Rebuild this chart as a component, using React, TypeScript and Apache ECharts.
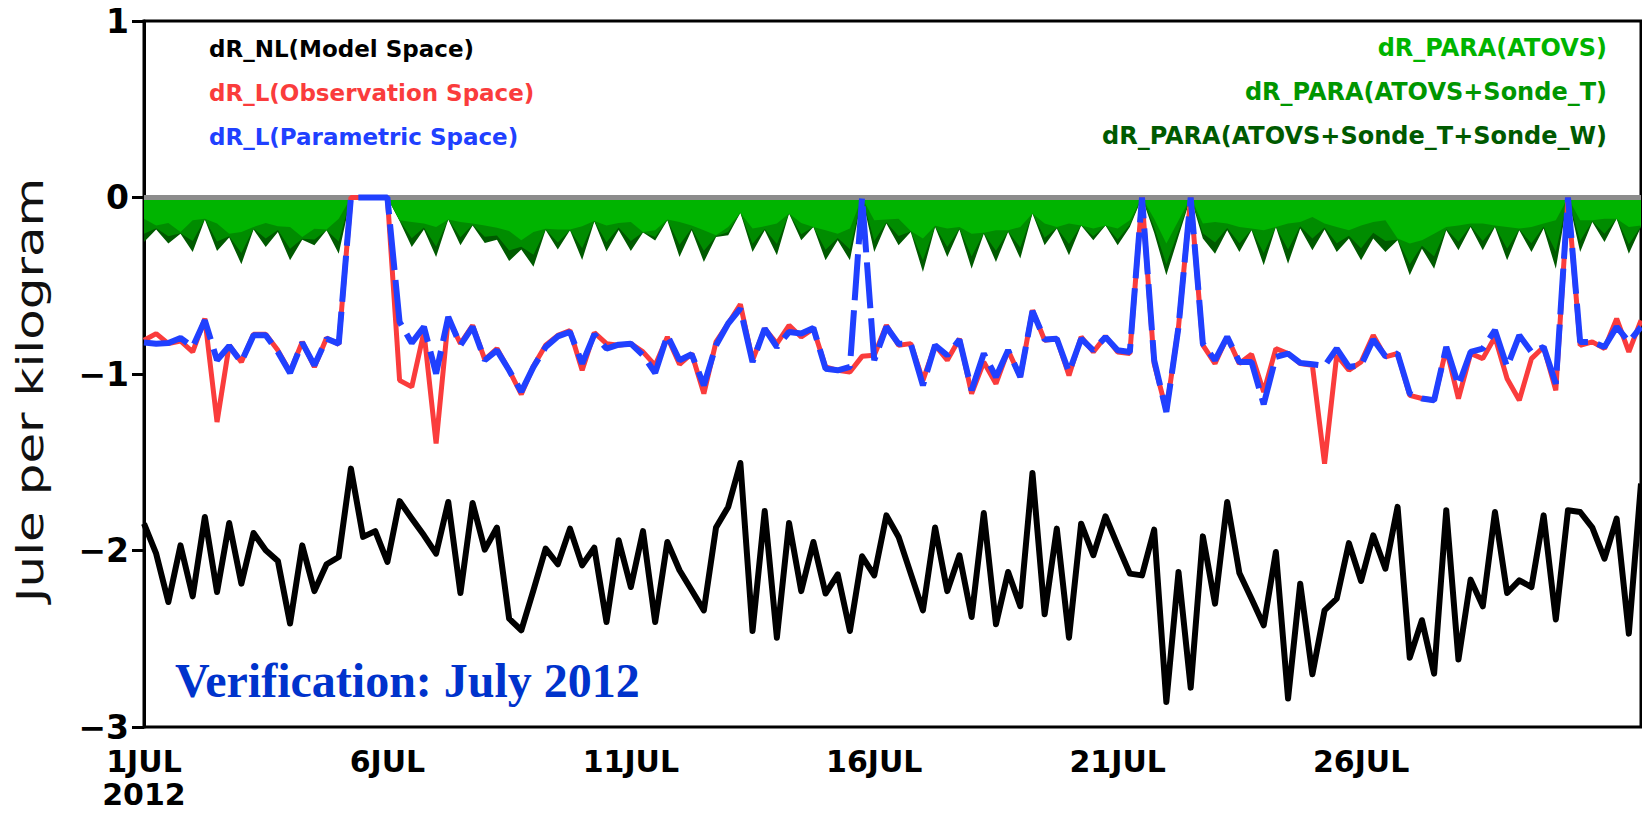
import React, { useEffect, useRef } from "react";
import * as echarts from "echarts";

// 6-hourly samples, 1 JUL 2012 00Z .. 31 JUL 2012 18Z (124 points)
const dayTickLabels = ["1JUL\n2012", "6JUL", "11JUL", "16JUL", "21JUL", "26JUL"];
const yTickValues = [1, 0, -1, -2, -3];

const drNL = [
  -1.848, -2.018, -2.292, -1.971, -2.260, -1.810, -2.235, -1.844, -2.188, -1.901,
  -1.999, -2.059, -2.414, -1.971, -2.230, -2.078, -2.037, -1.536, -1.923, -1.890,
  -2.065, -1.720, -1.819, -1.914, -2.018, -1.725, -2.241, -1.731, -1.995, -1.870,
  -2.386, -2.452, -2.225, -1.989, -2.078, -1.876, -2.084, -1.984, -2.405, -1.942,
  -2.207, -1.890, -2.405, -1.952, -2.112, -2.225, -2.339, -1.870, -1.753, -1.504,
  -2.456, -1.776, -2.494, -1.844, -2.230, -1.952, -2.244, -2.135, -2.456, -2.033,
  -2.141, -1.801, -1.923, -2.131, -2.339, -1.870, -2.230, -2.027, -2.377, -1.788,
  -2.418, -2.122, -2.316, -1.561, -2.361, -1.876, -2.494, -1.848, -2.027, -1.806,
  -1.971, -2.131, -2.141, -1.882, -2.858, -2.122, -2.777, -1.920, -2.301, -1.725,
  -2.127, -2.273, -2.424, -2.008, -2.839, -2.188, -2.701, -2.339, -2.273, -1.958,
  -2.173, -1.914, -2.103, -1.753, -2.607, -2.395, -2.698, -1.772, -2.618, -2.165,
  -2.316, -1.782, -2.241, -2.169, -2.207, -1.801, -2.391, -1.772, -1.782, -1.870,
  -2.046, -1.819, -2.471, -1.621,
];

const drLObs = [
  -0.809, -0.771, -0.828, -0.813, -0.875, -0.686, -1.272, -0.837, -0.932, -0.775,
  -0.775, -0.866, -0.989, -0.818, -0.960, -0.796, -0.832, 0, 0, 0,
  0, -1.036, -1.073, -0.762, -1.394, -0.686, -0.828, -0.724, -0.919, -0.856,
  -0.979, -1.115, -0.955, -0.837, -0.781, -0.754, -0.979, -0.766, -0.828, -0.837,
  -0.828, -0.875, -0.951, -0.790, -0.945, -0.884, -1.111, -0.818, -0.714, -0.605,
  -0.922, -0.743, -0.828, -0.724, -0.790, -0.743, -0.960, -0.979, -0.989, -0.900,
  -0.894, -0.724, -0.837, -0.828, -1.036, -0.837, -0.922, -0.800, -1.111, -0.932,
  -1.055, -0.866, -1.017, -0.639, -0.809, -0.800, -1.008, -0.790, -0.875, -0.787,
  -0.875, -0.884, 0, -0.941, -1.206, -0.733, 0, -0.837, -0.941, -0.790,
  -0.941, -0.888, -1.102, -0.856, -0.884, -0.941, -0.951, -1.508, -0.894, -0.979,
  -0.932, -0.781, -0.903, -0.884, -1.121, -1.139, -1.149, -0.856, -1.139, -0.884,
  -0.913, -0.790, -1.027, -1.149, -0.913, -0.847, -1.092, 0, -0.837, -0.818,
  -0.856, -0.686, -0.875, -0.696,
];

const drLPara = [
  -0.822, -0.828, -0.824, -0.796, -0.847, -0.696, -0.922, -0.841, -0.932, -0.781,
  -0.781, -0.875, -0.994, -0.822, -0.951, -0.800, -0.828, 0, 0, 0,
  0, -0.705, -0.824, -0.733, -0.998, -0.677, -0.837, -0.733, -0.922, -0.866,
  -0.979, -1.100, -0.960, -0.847, -0.787, -0.762, -0.941, -0.775, -0.856, -0.834,
  -0.828, -0.894, -0.994, -0.781, -0.922, -0.888, -1.064, -0.837, -0.714, -0.630,
  -0.932, -0.743, -0.847, -0.762, -0.771, -0.739, -0.970, -0.979, -0.960, 0,
  -0.922, -0.733, -0.828, -0.828, -1.064, -0.837, -0.894, -0.805, -1.092, -0.884,
  -1.017, -0.866, -1.017, -0.643, -0.805, -0.800, -0.989, -0.800, -0.866, -0.790,
  -0.866, -0.875, 0, -0.922, -1.215, -0.733, 0, -0.828, -0.922, -0.790,
  -0.932, -0.932, -1.172, -0.903, -0.884, -0.937, -0.945, -0.954, -0.856, -0.960,
  -0.951, -0.805, -0.900, -0.884, -1.111, -1.139, -1.149, -0.847, -1.064, -0.875,
  -0.856, -0.752, -0.960, -0.781, -0.875, -0.847, -1.055, 0, -0.818, -0.818,
  -0.847, -0.733, -0.818, -0.733,
];

const paraAtovs = [
  -0.120, -0.158, -0.144, -0.195, -0.129, -0.120, -0.148, -0.205, -0.195, -0.167,
  -0.144, -0.163, -0.167, -0.224, -0.177, -0.182, -0.120, 0, 0, 0,
  0, -0.129, -0.139, -0.148, -0.167, -0.125, -0.139, -0.148, -0.158, -0.171,
  -0.190, -0.242, -0.195, -0.177, -0.182, -0.182, -0.163, -0.133, -0.158, -0.144,
  -0.139, -0.195, -0.186, -0.125, -0.139, -0.158, -0.186, -0.214, -0.167, -0.086,
  -0.176, -0.163, -0.148, -0.091, -0.144, -0.167, -0.186, -0.205, -0.176, 0,
  -0.129, -0.125, -0.120, -0.190, -0.233, -0.160, -0.176, -0.167, -0.205, -0.200,
  -0.186, -0.186, -0.167, -0.091, -0.148, -0.167, -0.148, -0.158, -0.176, -0.158,
  -0.176, -0.129, 0, -0.120, -0.261, -0.130, 0, -0.148, -0.139, -0.148,
  -0.167, -0.176, -0.186, -0.167, -0.148, -0.139, -0.110, -0.148, -0.167, -0.186,
  -0.158, -0.139, -0.129, -0.233, -0.261, -0.242, -0.205, -0.167, -0.158, -0.148,
  -0.148, -0.158, -0.167, -0.176, -0.167, -0.148, -0.129, 0, -0.129, -0.129,
  -0.120, -0.120, -0.167, -0.158,
];

const paraAtovsT = [
  -0.206, -0.174, -0.220, -0.202, -0.246, -0.123, -0.249, -0.219, -0.314, -0.177,
  -0.232, -0.184, -0.290, -0.234, -0.238, -0.185, -0.249, 0, 0, 0,
  0, -0.131, -0.231, -0.170, -0.278, -0.125, -0.225, -0.155, -0.223, -0.215,
  -0.300, -0.279, -0.324, -0.181, -0.255, -0.185, -0.287, -0.135, -0.254, -0.170,
  -0.246, -0.197, -0.224, -0.127, -0.268, -0.175, -0.302, -0.220, -0.195, -0.086,
  -0.262, -0.178, -0.264, -0.091, -0.208, -0.167, -0.296, -0.229, -0.293, 0,
  -0.246, -0.140, -0.218, -0.193, -0.356, -0.165, -0.281, -0.177, -0.334, -0.203,
  -0.302, -0.192, -0.283, -0.091, -0.228, -0.173, -0.264, -0.158, -0.219, -0.158,
  -0.238, -0.154, 0, -0.170, -0.378, -0.190, 0, -0.203, -0.255, -0.173,
  -0.259, -0.183, -0.315, -0.167, -0.295, -0.163, -0.233, -0.170, -0.259, -0.217,
  -0.287, -0.200, -0.246, -0.239, -0.378, -0.273, -0.334, -0.179, -0.250, -0.160,
  -0.246, -0.164, -0.290, -0.182, -0.259, -0.166, -0.307, 0, -0.246, -0.135,
  -0.206, -0.120, -0.265, -0.164,
];

const paraAtovsTW = [
  -0.252, -0.182, -0.261, -0.205, -0.309, -0.125, -0.303, -0.227, -0.378, -0.182,
  -0.280, -0.195, -0.356, -0.239, -0.271, -0.186, -0.318, 0, 0, 0,
  0, -0.133, -0.280, -0.182, -0.337, -0.125, -0.271, -0.158, -0.258, -0.239,
  -0.360, -0.295, -0.392, -0.184, -0.295, -0.186, -0.354, -0.136, -0.306, -0.184,
  -0.303, -0.198, -0.244, -0.129, -0.337, -0.186, -0.365, -0.224, -0.214, -0.086,
  -0.309, -0.186, -0.327, -0.091, -0.242, -0.167, -0.356, -0.242, -0.356, 0,
  -0.309, -0.148, -0.271, -0.195, -0.422, -0.167, -0.337, -0.182, -0.403, -0.205,
  -0.365, -0.195, -0.346, -0.091, -0.271, -0.176, -0.327, -0.158, -0.242, -0.158,
  -0.271, -0.167, 0, -0.200, -0.441, -0.220, 0, -0.233, -0.318, -0.186,
  -0.309, -0.186, -0.384, -0.167, -0.375, -0.176, -0.299, -0.182, -0.309, -0.233,
  -0.356, -0.233, -0.309, -0.242, -0.441, -0.290, -0.403, -0.186, -0.299, -0.167,
  -0.299, -0.167, -0.356, -0.186, -0.309, -0.176, -0.403, 0, -0.309, -0.139,
  -0.252, -0.120, -0.318, -0.167,
];

const timeCategories = drNL.map((_, i) => {
  const day = 1 + Math.floor(i / 4);
  const hour = (i % 4) * 6;
  return `${day}JUL2012 ${hour < 10 ? "0" + hour : hour}Z`;
});

const POINTS_PER_TICK = 20; // 5 days

const isMajor = (index: number) =>
  index % POINTS_PER_TICK === 0 && index / POINTS_PER_TICK < dayTickLabels.length;

export default function App() {
  const ref = useRef<HTMLDivElement>(null);

  useEffect(() => {
    if (!ref.current) return;
    const chart = echarts.init(ref.current, undefined, { renderer: "svg" });

    const areaSeries = (name: string, data: number[], color: string, z: number) => ({
      name,
      type: "line",
      data,
      z,
      symbol: "none",
      smooth: false,
      lineStyle: { width: 0, color },
      itemStyle: { color },
      areaStyle: { color, opacity: 1, origin: 0 },
      silent: true,
    });

    const legendFont = "bold 23px 'DejaVu Sans'";
    const legendFontRight = "bold 24px 'DejaVu Sans'";

    const option: any = {
      animation: false,
      backgroundColor: "#ffffff",
      grid: {
        left: 144,
        top: 21,
        width: 1497,
        height: 706,
        show: true,
        borderColor: "#000",
        borderWidth: 3,
        backgroundColor: "transparent",
      },
      xAxis: {
        type: "category",
        data: timeCategories,
        boundaryGap: false,
        axisLine: { show: true, lineStyle: { color: "#000", width: 3 } },
        axisTick: {
          show: true,
          interval: (index: number) => isMajor(index),
          length: 12,
          lineStyle: { color: "#000", width: 3 },
        },
        axisLabel: {
          interval: (index: number) => isMajor(index),
          formatter: (_: string, index: number) =>
            isMajor(index) ? dayTickLabels[index / POINTS_PER_TICK] : "",
          color: "#000",
          fontFamily: "DejaVu Sans",
          fontWeight: "bold",
          fontSize: 30,
          lineHeight: 33,
          margin: 18,
        },
        splitLine: { show: false },
      },
      yAxis: {
        type: "value",
        min: Math.min(...yTickValues),
        max: Math.max(...yTickValues),
        interval: 1,
        axisLine: { show: true, lineStyle: { color: "#000", width: 3 } },
        axisTick: { show: true, length: 12, lineStyle: { color: "#000", width: 3 } },
        axisLabel: {
          formatter: (v: number) => (v < 0 ? "\u2212" + Math.abs(v) : String(v)),
          color: "#000",
          fontFamily: "DejaVu Sans",
          fontWeight: "bold",
          fontSize: 33,
          margin: 15,
        },
        splitLine: { show: false },
      },
      series: [
        areaSeries("dR_PARA(ATOVS+Sonde_T+Sonde_W)", paraAtovsTW, "#005a00", 1),
        areaSeries("dR_PARA(ATOVS+Sonde_T)", paraAtovsT, "#008c00", 2),
        areaSeries("dR_PARA(ATOVS)", paraAtovs, "#00b400", 3),
        {
          name: "dR_L(Observation Space)",
          type: "line",
          data: drLObs,
          z: 5,
          symbol: "none",
          lineStyle: { color: "#fa3c3c", width: 5 },
          itemStyle: { color: "#fa3c3c" },
          markLine: {
            silent: true,
            symbol: "none",
            label: { show: false },
            lineStyle: { color: "#8c8c8c", width: 5, type: "solid" },
            data: [{ yAxis: 0 }],
            z: 4,
          },
        },
        {
          name: "dR_L(Parametric Space)",
          type: "line",
          data: drLPara,
          z: 6,
          symbol: "none",
          lineStyle: { color: "#2040ff", width: 6, type: [46, 10] },
          itemStyle: { color: "#2040ff" },
        },
        {
          name: "dR_NL(Model Space)",
          type: "line",
          data: drNL,
          z: 7,
          symbol: "none",
          lineStyle: { color: "#000", width: 6, join: "round" },
          itemStyle: { color: "#000" },
        },
      ],
      graphic: [
        {
          type: "text",
          left: 209,
          top: 37,
          style: { text: "dR_NL(Model Space)", fill: "#000", font: legendFont },
        },
        {
          type: "text",
          left: 209,
          top: 81,
          style: { text: "dR_L(Observation Space)", fill: "#fa3c3c", font: legendFont },
        },
        {
          type: "text",
          left: 209,
          top: 125,
          style: { text: "dR_L(Parametric Space)", fill: "#2040ff", font: legendFont },
        },
        {
          type: "text",
          right: 35,
          top: 36,
          style: { text: "dR_PARA(ATOVS)", fill: "#00b400", font: legendFontRight },
        },
        {
          type: "text",
          right: 35,
          top: 80,
          style: { text: "dR_PARA(ATOVS+Sonde_T)", fill: "#009600", font: legendFontRight },
        },
        {
          type: "text",
          right: 35,
          top: 124,
          style: { text: "dR_PARA(ATOVS+Sonde_T+Sonde_W)", fill: "#005a00", font: legendFontRight },
        },
        {
          type: "text",
          left: 175,
          top: 656,
          style: {
            text: "Verification: July 2012",
            fill: "#0033cc",
            font: "bold 48px 'Liberation Serif'",
          },
        },
        {
          type: "text",
          x: 30,
          y: 390,
          rotation: Math.PI / 2,
          scaleX: 1.35,
          style: {
            text: "Jule per kilogram",
            fill: "#111",
            font: "37px 'DejaVu Sans'",
            textAlign: "center",
            textVerticalAlign: "middle",
          },
        },
      ],
    };

    chart.setOption(option);
    return () => chart.dispose();
  }, []);

  return (
    <div
      ref={ref}
      style={{ position: "fixed", left: 0, top: 0, width: 1642, height: 814, background: "#fff" }}
    />
  );
}
